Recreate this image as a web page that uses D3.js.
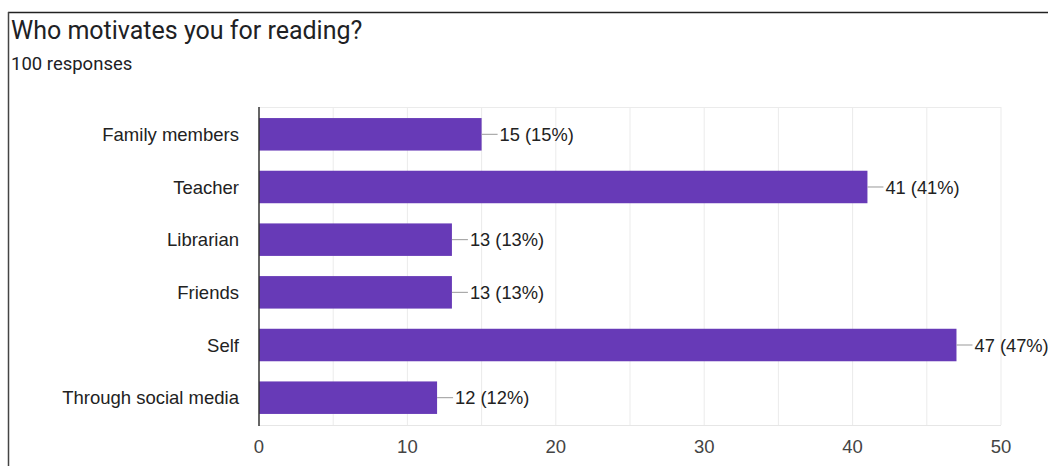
<!DOCTYPE html>
<html lang="en">
<head>
    <meta charset="UTF-8">
    <title>Who motivates you for reading?</title>
    <script src="https://d3js.org/d3.v7.min.js"></script>
    <style>
        body {
            margin: 0;
            padding: 0;
            background: #fff;
        }
        .title {
            font-family: Roboto, "Noto Sans", sans-serif;
            font-size: 25px;
            fill: #202124;
        }
        .subtitle {
            font-family: Roboto, "Noto Sans", sans-serif;
            font-size: 18.5px;
            fill: #202124;
        }
        .cat-label, .tick-label, .value-label {
            font-family: "Liberation Sans", Arial, sans-serif;
            fill: #222;
        }
        .cat-label { font-size: 18.5px; }
        .tick-label { font-size: 18.5px; fill: #444; }
        .value-label { font-size: 18.3px; }
    </style>
</head>
<body>
    <div id="chart"></div>
    <script>
        const categories = ["Family members", "Teacher", "Librarian", "Friends", "Self", "Through social media"];
        const counts = [15, 41, 13, 13, 47, 12];
        const percents = [15, 41, 13, 13, 47, 12];
        const xTicks = [0, 10, 20, 30, 40, 50];
        const gridTicks = [5, 10, 15, 20, 25, 30, 35, 40, 45, 50];

        const width = 1048;
        const height = 466;

        const svg = d3.select("#chart")
            .append("svg")
            .attr("width", width)
            .attr("height", height);

        // frame
        svg.append("line")
            .attr("x1", 8).attr("x2", width)
            .attr("y1", 12.5).attr("y2", 12.5)
            .attr("stroke", "#222").attr("stroke-width", 1.5);
        svg.append("line")
            .attr("x1", 8.5).attr("x2", 8.5)
            .attr("y1", 12).attr("y2", height)
            .attr("stroke", "#444").attr("stroke-width", 1.5);

        svg.append("text")
            .attr("class", "title")
            .attr("x", 11).attr("y", 39)
            .text("Who motivates you for reading?");
        svg.append("text")
            .attr("class", "subtitle")
            .attr("x", 11).attr("y", 70)
            .text("100 responses");

        const x = d3.scaleLinear().domain([0, 50]).range([259, 1001]);
        const y = d3.scaleBand().domain(categories).range([107, 425])
            .paddingInner(0.383).paddingOuter(0.21);

        const data = categories.map((c, i) => ({ cat: c, n: counts[i], pct: percents[i] }));

        // grid
        svg.selectAll(".grid")
            .data(gridTicks)
            .enter().append("line")
            .attr("class", "grid")
            .attr("x1", d => x(d)).attr("x2", d => x(d))
            .attr("y1", 107).attr("y2", 425)
            .attr("stroke", "#ebebeb").attr("stroke-width", 1);
        svg.append("line")
            .attr("x1", x(0)).attr("x2", x(50))
            .attr("y1", 107.5).attr("y2", 107.5)
            .attr("stroke", "#ebebeb");
        svg.append("line")
            .attr("x1", x(0)).attr("x2", x(50))
            .attr("y1", 425.5).attr("y2", 425.5)
            .attr("stroke", "#e6e6e6");

        // bars
        svg.selectAll(".bar")
            .data(data)
            .enter().append("rect")
            .attr("class", "bar")
            .attr("x", x(0))
            .attr("y", d => y(d.cat))
            .attr("width", d => x(d.n) - x(0))
            .attr("height", y.bandwidth())
            .attr("fill", "#673ab7");

        // axis line
        svg.append("line")
            .attr("x1", x(0)).attr("x2", x(0))
            .attr("y1", 107).attr("y2", 426)
            .attr("stroke", "#333").attr("stroke-width", 1.5);

        // leader lines + value labels
        svg.selectAll(".leader")
            .data(data)
            .enter().append("line")
            .attr("class", "leader")
            .attr("x1", d => x(d.n)).attr("x2", d => x(d.n) + 16)
            .attr("y1", d => y(d.cat) + y.bandwidth() / 2)
            .attr("y2", d => y(d.cat) + y.bandwidth() / 2)
            .attr("stroke", "#999").attr("stroke-width", 1);
        svg.selectAll(".value-label")
            .data(data)
            .enter().append("text")
            .attr("class", "value-label")
            .attr("x", d => x(d.n) + 18)
            .attr("y", d => y(d.cat) + y.bandwidth() / 2)
            .attr("dy", "0.36em")
            .text(d => `${d.n} (${d.pct}%)`);

        // category labels
        svg.selectAll(".cat-label")
            .data(data)
            .enter().append("text")
            .attr("class", "cat-label")
            .attr("x", 239)
            .attr("y", d => y(d.cat) + y.bandwidth() / 2)
            .attr("dy", "0.36em")
            .attr("text-anchor", "end")
            .text(d => d.cat);

        // x tick labels
        svg.selectAll(".tick-label")
            .data(xTicks)
            .enter().append("text")
            .attr("class", "tick-label")
            .attr("x", d => x(d))
            .attr("y", 453)
            .attr("text-anchor", "middle")
            .text(d => d);
    </script>
</body>
</html>
